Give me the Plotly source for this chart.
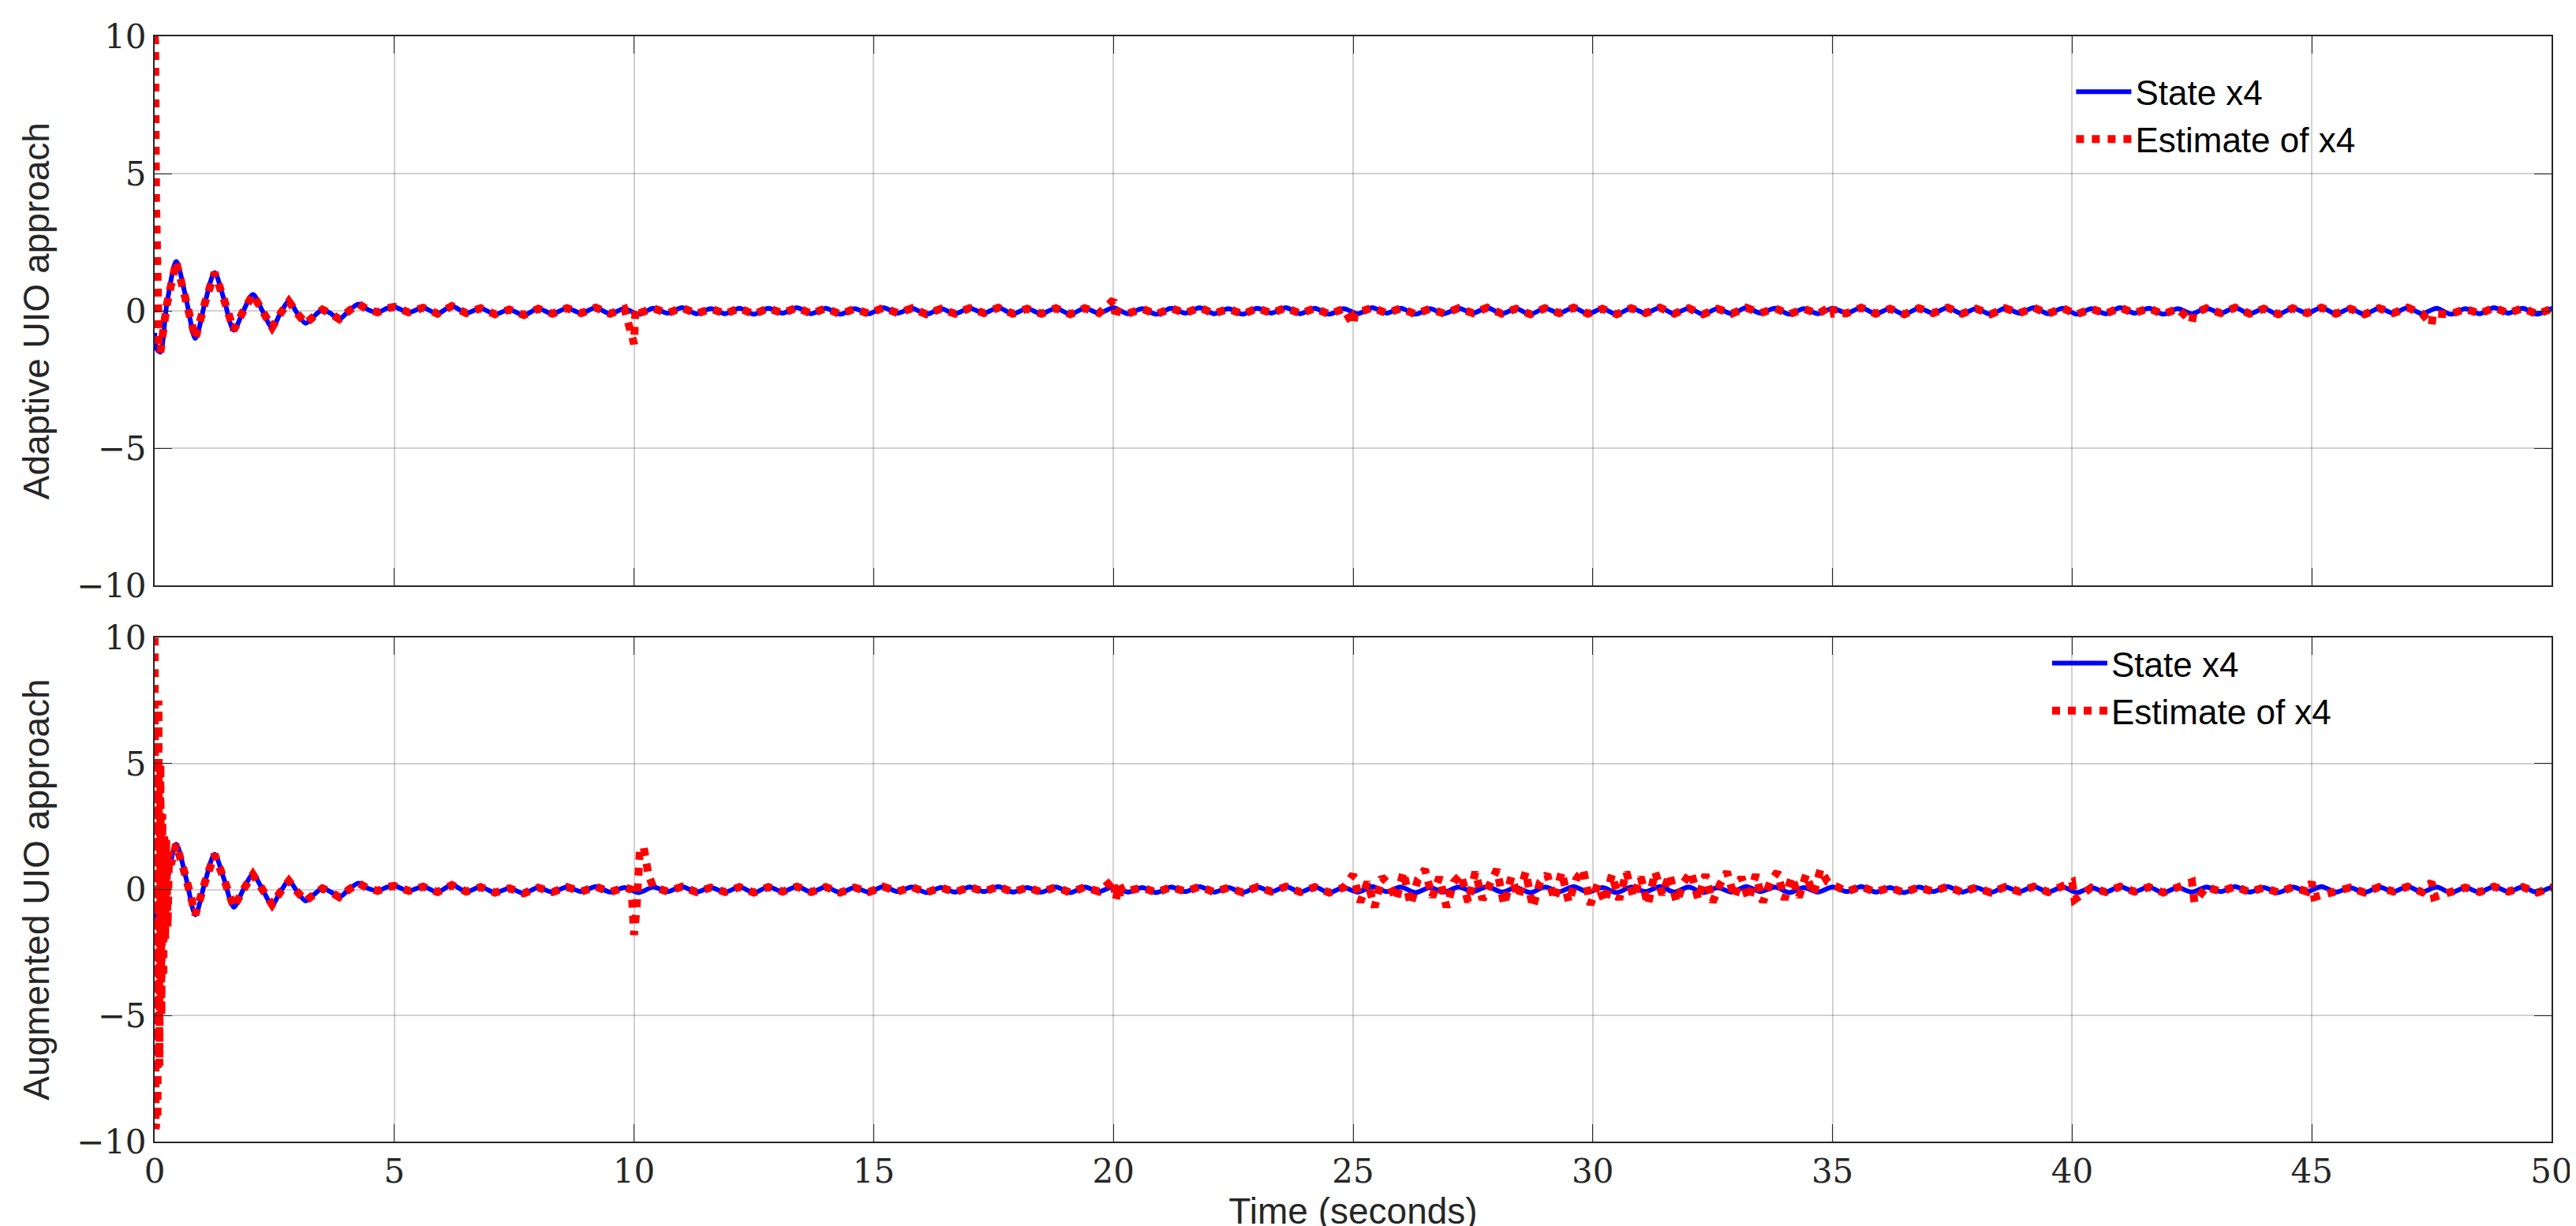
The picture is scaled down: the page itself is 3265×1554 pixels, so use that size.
import numpy as np
import plotly.graph_objects as go

# ---- state x4: transient part (time, value) ----
early_t = [0.0, 0.05, 0.12, 0.25, 0.45, 0.65, 0.85, 1.05, 1.25, 1.45, 1.65, 1.85, 2.05, 2.25, 2.45, 2.62, 2.8, 2.98, 3.15, 3.32, 3.5, 3.68, 3.85, 4.05, 4.25, 4.45, 4.65, 4.85]
early_v = [-0.8, -1.4, -1.5, 0.2, 1.8, 0.5, -1.0, 0.3, 1.4, 0.4, -0.7, 0.0, 0.6, 0.0, -0.6, -0.1, 0.35, -0.1, -0.45, -0.2, 0.05, -0.1, -0.3, 0.0, 0.25, 0.05, -0.05, 0.1]
# ---- state x4: steady ripple, sampled every 0.3 s from 5.0 s ----
late_step = 0.3
late_v = [0.15, -0.05, 0.12, -0.10, 0.18, -0.08, 0.10, -0.12, 0.05, -0.15, 0.08, -0.10, 0.10, -0.08, 0.12, -0.10,
          0.08, -0.12, 0.10, -0.08, 0.12, -0.10, 0.08, -0.10, 0.10, -0.12, 0.10, -0.08, 0.12, -0.10,
          0.10, -0.12, 0.08, -0.10, 0.12, -0.08, 0.10, -0.12, 0.08, -0.10, 0.10, -0.08, 0.12, -0.10,
          0.08, -0.10, 0.10, -0.12, 0.10, -0.08, 0.12, -0.10, 0.08, -0.12, 0.10, -0.08, 0.12, -0.10,
          0.08, -0.12, 0.10, -0.08, 0.12, -0.10, 0.10, -0.12, 0.08, -0.10, 0.12, -0.08, 0.10, -0.12,
          0.08, -0.10, 0.10, -0.08, 0.12, -0.10, 0.08, -0.12, 0.10, -0.08, 0.12, -0.10, 0.08, -0.12,
          0.10, -0.08, 0.12, -0.10, 0.10, -0.12, 0.08, -0.10, 0.12, -0.08, 0.10, -0.12, 0.08, -0.10,
          0.10, -0.08, 0.12, -0.10, 0.08, -0.12, 0.10, -0.08, 0.12, -0.10, 0.08, -0.12, 0.10, -0.08,
          0.12, -0.10, 0.10, -0.12, 0.08, -0.10, 0.12, -0.08, 0.10, -0.12, 0.08, -0.10, 0.10, -0.08,
          0.12, -0.10, 0.08, -0.12, 0.10, -0.08, 0.12, -0.10, 0.08, -0.12, 0.10, -0.08, 0.12, -0.10,
          0.10, -0.12, 0.08, -0.10, 0.12, -0.08, 0.10, -0.12, 0.08, -0.10]

# ---- adaptive UIO estimate: deviations from the state (time, value) ----
ad_t = [0.0, 0.01, 0.03, 0.06, 0.09, 10.0, 10.03, 10.08, 20.0, 20.03, 25.0, 25.04, 35.0, 35.03, 42.5, 42.53, 47.5, 47.53]
ad_v = [10.0, 9.8, 4.0, -0.6, -1.3, -1.2, 0.05, -0.1, 0.4, 0.0, -0.5, -0.1, 0.2, -0.1, -0.4, -0.1, -0.5, -0.1]

# ---- augmented UIO estimate ----
au_t = [0.0, 0.02, 0.04, 0.06, 0.08, 0.10, 0.12, 0.14, 0.16, 0.18, 0.20, 0.22, 0.24, 0.27, 0.30, 0.34,
        9.95, 10.0, 10.05, 10.12, 10.2, 10.3, 10.4, 20.0, 20.05, 20.12, 20.2,
        40.0, 40.05, 42.5, 42.55, 45.0, 45.05, 47.5, 47.55]
au_v = [10.0, -9.5, 8.0, -9.0, 7.5, -7.0, 5.0, -5.0, 3.0, -3.5, 2.2, -2.0, 2.0, -1.5, 1.5, 1.0,
        0.0, -1.8, -0.8, 1.5, 1.7, 0.6, 0.1, 0.4, -0.4, 0.2, -0.1,
        0.3, -0.4, 0.3, -0.5, 0.3, -0.3, 0.3, -0.3]
chatter_t0 = 25.0
chatter_step = 0.15
chatter_v = [0.6, -0.5, 0.3, -0.7, 0.5, 0.2, -0.4, 0.7, -0.6, 0.4, 0.8, -0.3, 0.5, -0.7, 0.3, 0.6, -0.5, 0.7,
             -0.4, 0.2, 0.8, -0.6, 0.5, -0.3, 0.7, -0.7, 0.3, 0.6, -0.4, 0.7, -0.5, 0.4, 0.8, -0.6, 0.2, -0.5,
             0.6, -0.4, 0.7, -0.3, 0.5, -0.6, 0.7, -0.2, 0.6, -0.5, 0.3, 0.7, -0.4, 0.6, -0.5, 0.2, 0.7, -0.3,
             0.5, -0.4, 0.6, -0.5, 0.3, 0.7, -0.4, 0.5, -0.3, 0.6, -0.2, 0.8, 0.3]

x_ticks = [0, 5, 10, 15, 20, 25, 30, 35, 40, 45, 50]
y_ticks = [-10, -5, 0, 5, 10]

# ---- assemble series ----
late_t = list(np.round(5.0 + late_step * np.arange(len(late_v)), 3))
st_t = early_t + late_t
st_v = early_v + late_v


def merge(base_t, base_v, ev_t, ev_v, win=0.2):
    early_end = max(e for e in ev_t if e < 1)
    late_ev = [e for e in ev_t if e > 0.5]
    pts = {}
    for t, v in zip(base_t, base_v):
        if t <= early_end:
            continue
        if any(e - 0.05 <= t < e + win for e in late_ev):
            continue
        pts[t] = v
    for t, v in zip(ev_t, ev_v):
        pts[t] = v
    ks = sorted(pts)
    return ks, [pts[k] for k in ks]


ad_tt, ad_vv = merge(st_t, st_v, ad_t, ad_v)
ch_t = list(np.round(chatter_t0 + chatter_step * np.arange(len(chatter_v)), 3))
base2_t = [t for t in st_t if not (24.95 < t < 35.05)]
base2_v = [v for t, v in zip(st_t, st_v) if not (24.95 < t < 35.05)]
au_tt, au_vv = merge(base2_t + ch_t, base2_v + chatter_v, au_t, au_v)

fig = go.Figure()
for i, (et, ev) in enumerate([(ad_tt, ad_vv), (au_tt, au_vv)]):
    xa = "x" if i == 0 else "x2"
    ya = "y" if i == 0 else "y2"
    lg = "legend" if i == 0 else "legend2"
    fig.add_trace(go.Scatter(x=st_t, y=st_v, mode="lines", name="State x4", xaxis=xa, yaxis=ya, legend=lg,
                             line=dict(color="#0000FF", width=6, shape="spline", smoothing=0.8)))
    fig.add_trace(go.Scatter(x=et, y=ev, mode="lines", name="Estimate of x4", xaxis=xa, yaxis=ya, legend=lg,
                             line=dict(color="#FF0000", width=10, dash="dot")))

axis_common = dict(range=[0, 50], tickvals=x_ticks, showgrid=True, gridcolor="rgba(0,0,0,0.18)", gridwidth=2,
                   showline=True, linecolor="#262626", linewidth=2, mirror="ticks", ticks="inside", ticklen=22,
                   tickcolor="#262626", zeroline=False,
                   tickfont=dict(family="DejaVu Serif", size=42, color="#262626"))
yaxis_common = dict(range=[-10, 10], tickvals=y_ticks, showgrid=True, gridcolor="rgba(0,0,0,0.18)", gridwidth=2,
                    showline=True, linecolor="#262626", linewidth=2, mirror="ticks", ticks="inside", ticklen=22,
                    tickcolor="#262626", zeroline=False,
                    tickfont=dict(family="DejaVu Serif", size=42, color="#262626"),
                    ticktext=["\u221210", "\u22125", "0", "5", "10"])

fig.update_layout(
    width=3265, height=1554, paper_bgcolor="white", plot_bgcolor="white",
    margin=dict(l=188, r=39, t=38, b=99),
    font=dict(family="Liberation Sans", color="#262626"),
    xaxis=dict(axis_common, domain=[0, 1], anchor="y", showticklabels=False),
    yaxis=dict(yaxis_common, domain=[0.503, 1], anchor="x",
               title=dict(text="Adaptive UIO approach", font=dict(size=46), standoff=20)),
    xaxis2=dict(axis_common, domain=[0, 1], anchor="y2",
                title=dict(text="Time (seconds)", font=dict(size=46), standoff=8)),
    yaxis2=dict(yaxis_common, domain=[0, 0.456], anchor="x2",
                title=dict(text="Augmented UIO approach", font=dict(size=46), standoff=20)),
    legend=dict(x=0.8, y=0.975, xanchor="left", yanchor="top", bgcolor="rgba(255,255,255,0)",
                font=dict(size=44, color="black"), tracegroupgap=0, itemwidth=70),
    legend2=dict(x=0.79, y=0.458, xanchor="left", yanchor="top", bgcolor="rgba(255,255,255,0)",
                 font=dict(size=44, color="black"), tracegroupgap=0, itemwidth=70),
)
fig.write_html("out.html")
